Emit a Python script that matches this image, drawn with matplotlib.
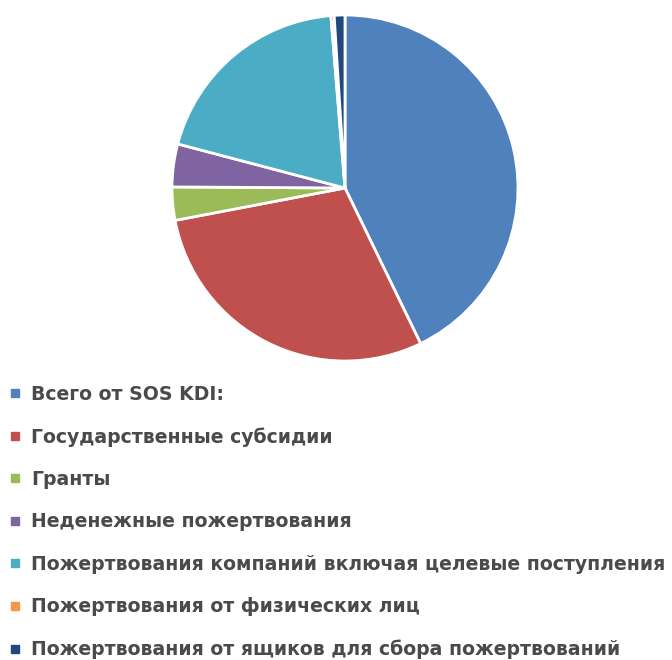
import matplotlib
matplotlib.use("Agg")
import matplotlib.pyplot as plt
from matplotlib.lines import Line2D

labels = [
    "Всего от SOS KDI:",
    "Государственные субсидии",
    "Гранты",
    "Неденежные пожертвования",
    "Пожертвования компаний включая целевые поступления",
    "Пожертвования от физических лиц",
    "Пожертвования от ящиков для сбора пожертвований",
]
values = [42.8, 29.2, 3.1, 4.0, 19.6, 0.3, 1.0]
colors = ["#4F81BD", "#C0504D", "#9BBB59", "#8064A2", "#4BACC6", "#F79646", "#1F497D"]

W, H = 672, 660
fig = plt.figure(figsize=(W / 100, H / 100), dpi=100)
fig.patch.set_facecolor("white")

cx, cy, r = 345, 188, 173
ax = fig.add_axes([(cx - r) / W, (H - cy - r) / H, 2 * r / W, 2 * r / H])
ax.pie(values, colors=colors, startangle=90, counterclock=False,
       wedgeprops=dict(edgecolor="white", linewidth=2))
ax.set_xlim(-1, 1)
ax.set_ylim(-1, 1)
ax.set_aspect("equal")
ax.axis("off")

handles = [Line2D([0], [0], marker="s", linestyle="none", markersize=6,
                  markerfacecolor=c, markeredgecolor=c) for c in colors]
leg = fig.legend(handles, labels, loc="upper left",
                 bbox_to_anchor=(1.0 / W, 1 - 377 / H),
                 frameon=False, handlelength=0.7, handletextpad=0.5,
                 labelspacing=1.24, borderaxespad=0, borderpad=0.4,
                 prop=dict(family="DejaVu Sans", weight="bold", size=13.6))
for t in leg.get_texts():
    t.set_color("#4A4A4A")

fig.savefig("out.png", dpi=100, facecolor="white")
